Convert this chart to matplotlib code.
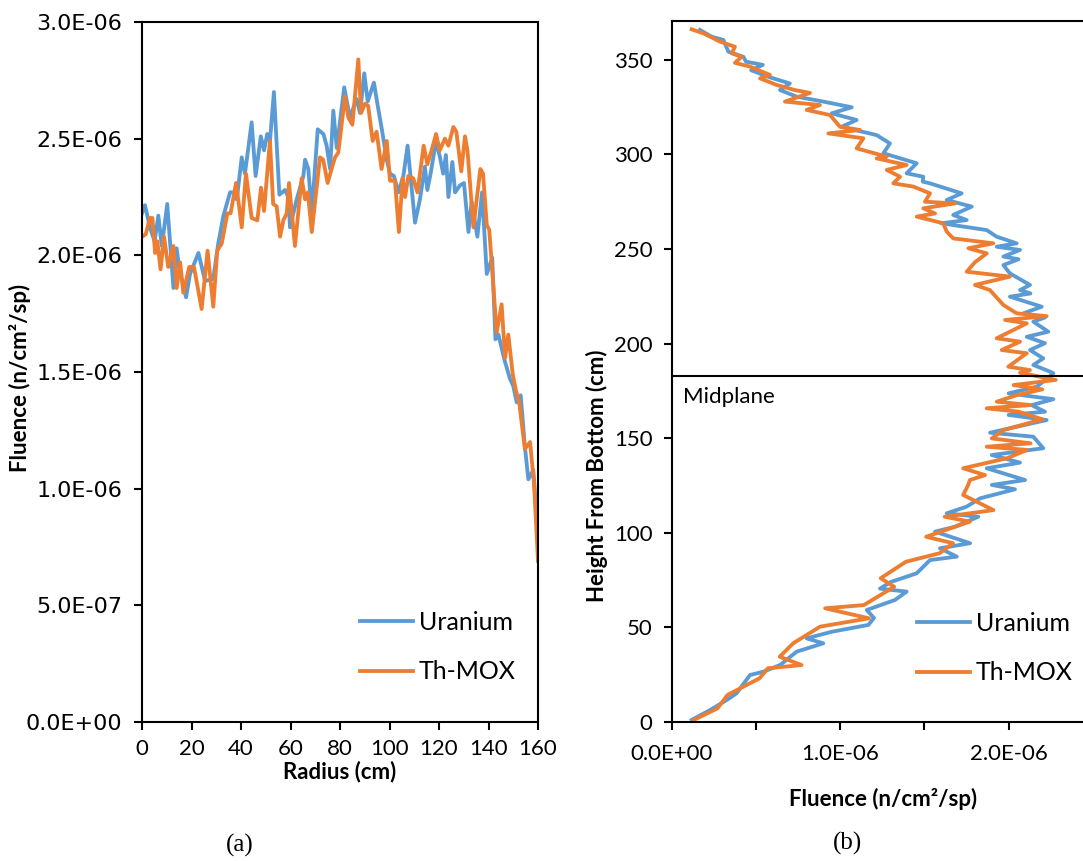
import matplotlib
matplotlib.use('Agg')
import matplotlib.pyplot as plt
import numpy as np
from matplotlib.ticker import FixedLocator, FuncFormatter

# colours (Excel office palette)
c_u = '#5B9BD5'
c_th = '#ED7D31'

# ---- (a) radial profile, fluence in units of 1e-6
radius_u = [0, 1.2, 3.2, 5.1, 6.6, 8.0, 10.2, 12.7, 14.0, 15.1, 17.8, 19.4, 22.8, 25.5, 28.8,
            30.8, 32.9, 35.6, 37.2, 38.3, 40.3, 41.6, 44.3, 45.9, 48.0, 49.3, 50.6, 51.7, 53.3,
            55.5, 57.8, 59.1, 59.8, 62.5, 65.2, 65.9, 67.2, 68.6, 71.0, 73.3, 74.6, 76.0, 77.3,
            78.7, 81.7, 84.0, 86.7, 88.1, 89.8, 91.2, 93.7, 95.1, 96.9, 98.9, 100.2, 101.8,
            103.6, 105.6, 107.3, 110.3, 112.3, 114.3, 115.3, 116.6, 118.8, 120.4, 121.7, 122.8,
            123.8, 125.4, 126.5, 128.5, 130.1, 131.9, 133.2, 135.5, 137.4, 139.3, 141.5, 142.8,
            144.0, 146.5, 148.7, 150.0, 151.4, 153.0, 154.7, 156.1, 158.1, 160.0]
flux_u = [2.18, 2.215, 2.12, 2.06, 2.17, 2.04, 2.22, 1.86, 2.03, 1.94, 1.82, 1.92, 2.01, 1.89, 1.90,
          2.05, 2.17, 2.27, 2.27, 2.24, 2.42, 2.35, 2.57, 2.34, 2.51, 2.45, 2.52, 2.49, 2.70,
          2.26, 2.28, 2.25, 2.12, 2.24, 2.34, 2.41, 2.37, 2.18, 2.54, 2.52, 2.47, 2.37, 2.62,
          2.46, 2.72, 2.59, 2.67, 2.61, 2.78, 2.66, 2.74, 2.65, 2.54, 2.41, 2.35, 2.34,
          2.27, 2.34, 2.47, 2.14, 2.24, 2.38, 2.28, 2.35, 2.49, 2.42, 2.35, 2.43,
          2.25, 2.40, 2.27, 2.30, 2.31, 2.10, 2.23, 2.08, 2.27, 1.92, 1.99, 1.64,
          1.66, 1.55, 1.47, 1.44, 1.37, 1.40, 1.18, 1.04, 1.08, 0.80]

radius_th = [0, 1.5, 3.2, 4.2, 5.3, 6.2, 7.5, 8.9, 10.6, 12.7, 14.0, 15.4, 16.7, 19.1, 21.0, 24.1,
             26.5, 28.8, 30.4, 32.2, 34.5, 35.8, 38.0, 40.3, 42.0, 44.3, 46.6, 48.1, 49.3, 51.7,
             53.0, 54.4, 55.8, 57.1, 58.5, 59.4, 61.8, 64.5, 65.9, 67.0, 68.6, 71.9, 73.2, 75.0,
             76.6, 78.0, 79.3, 82.0, 83.4, 85.0, 87.4, 88.5, 90.1, 91.4, 93.2, 94.8, 96.8, 98.9,
             100.2, 102.2, 103.8, 105.3, 106.3, 107.6, 109.6, 111.3, 113.8, 115.3, 117.0, 118.8,
             120.3, 122.4, 123.8, 125.8, 127.0, 129.0, 130.5, 131.5, 133.9, 136.7, 137.8, 139.3,
             140.3, 143.3, 145.3, 146.7, 148.0, 149.8, 151.1, 152.4, 154.7, 156.8, 158.4, 160.0]
flux_th = [2.08, 2.09, 2.16, 2.16, 2.01, 2.06, 1.94, 2.08, 1.95, 2.04, 1.86, 1.97, 1.84, 1.95, 1.95, 1.77,
           2.02, 1.78, 2.02, 2.05, 2.18, 2.18, 2.31, 2.12, 2.35, 2.16, 2.15, 2.29, 2.19, 2.49,
           2.22, 2.21, 2.08, 2.15, 2.18, 2.31, 2.04, 2.33, 2.24, 2.27, 2.10, 2.42, 2.41, 2.31,
           2.37, 2.42, 2.44, 2.68, 2.59, 2.56, 2.84, 2.61, 2.65, 2.64, 2.49, 2.53, 2.37, 2.49,
           2.32, 2.32, 2.10, 2.33, 2.25, 2.34, 2.33, 2.27, 2.47, 2.39, 2.45, 2.52,
           2.45, 2.50, 2.47, 2.55, 2.53, 2.36, 2.51, 2.45, 2.12, 2.37, 2.35, 2.13,
           2.11, 1.67, 1.79, 1.56, 1.66, 1.49, 1.42, 1.37, 1.17, 1.20, 1.02, 0.69]

# ---- (b) axial profile, fluence in units of 1e-6
height_u = [365.8, 362.2, 360.5, 354.3, 351.6, 349.0, 347.3, 344.5, 341.0, 337.5, 334.0, 330.5,
            327.9, 324.9, 321.7, 318.2, 314.6, 310.2, 305.8, 300.6, 295.3, 290.0, 288.2, 285.6,
            284.7, 279.4, 275.9, 272.4, 268.0, 265.3, 263.6, 260.0, 256.5, 253.0, 251.2, 249.5, 246.0, 244.6,
            241.5, 237.1, 231.0, 228.3, 226.5, 224.8, 219.5, 216.0, 213.8, 211.6, 206.3, 203.6,
            200.2, 196.6, 192.2, 188.7, 185.2, 184.3, 177.2, 173.7, 170.6, 167.5, 164.0, 162.3,
            159.6, 152.9, 150.8, 144.7, 141.1, 137.1, 134.1, 127.9, 125.3, 123.0, 118.2, 113.8,
            110.3, 108.5, 103.2, 100.6, 94.5, 91.8, 87.4, 85.6, 78.6, 74.0, 70.5, 68.9, 64.5,
            59.2, 55.0, 51.3, 47.7, 44.2, 41.6, 37.2, 30.1, 26.6, 24.8, 15.2, 11.6, 6.3, 1.1]
axial_u = [0.166, 0.236, 0.305, 0.335, 0.424, 0.44, 0.54, 0.47, 0.572, 0.70, 0.642, 0.741,
           0.90, 1.068, 0.949, 1.097, 1.008, 1.216, 1.295, 1.256, 1.454, 1.394, 1.493, 1.49,
           1.533, 1.721, 1.632, 1.781, 1.671, 1.751, 1.60, 1.87, 1.929, 2.048, 1.929, 2.068, 1.969, 2.059,
           1.969, 2.008, 2.127, 2.068, 2.13, 2.008, 2.197, 2.088, 2.216, 2.147, 2.236, 2.108,
           2.216, 2.127, 2.206, 2.147, 2.246, 2.266, 2.167, 2.0, 2.266, 2.137, 2.216, 2.0,
           2.226, 1.89, 2.147, 2.206, 1.90, 2.068, 1.87, 2.098, 1.90, 2.038, 1.83, 1.75,
           1.632, 1.82, 1.681, 1.563, 1.771, 1.592, 1.692, 1.533, 1.454, 1.30, 1.236, 1.394, 1.325,
           1.157, 1.20, 1.167, 0.949, 0.80, 0.899, 0.741, 0.642, 0.543, 0.463, 0.384, 0.325, 0.226, 0.117]

height_th = [366.1, 364.0, 361.4, 359.6, 356.9, 353.4, 351.6, 348.4, 346.4, 342.0, 340.2, 336.7,
             334.0, 332.5, 327.9, 326.1, 323.5, 320.8, 314.6, 312.9, 311.1, 308.5, 303.2, 298.8,
             297.9, 294.4, 291.8, 288.2, 284.7, 283.0, 279.4, 275.0, 274.1, 271.5, 268.8, 267.1,
             263.6, 259.2, 255.6, 253.0, 250.4, 247.7, 243.0, 238.0, 235.4, 231.0, 228.3, 220.4,
             216.0, 214.5, 212.5, 210.7, 202.8, 201.0, 196.6, 194.9, 187.8, 186.0, 184.6, 180.8,
             178.1, 175.8, 172.8, 169.3, 167.5, 165.8, 164.0, 160.0, 154.3, 149.9, 147.3, 145.5,
             143.8, 139.4, 134.1, 130.5, 127.9, 125.3, 120.0, 112.0, 108.5, 105.9, 97.9, 94.5,
             89.2, 84.7, 76.0, 71.5, 61.8, 60.1, 54.8, 50.4, 41.6, 34.5, 30.1, 28.4, 23.1, 14.3,
             7.2, 1.1]
axial_th = [0.117, 0.186, 0.245, 0.285, 0.374, 0.355, 0.414, 0.374, 0.463, 0.582, 0.523, 0.622,
            0.73, 0.82, 0.671, 0.879, 0.80, 0.939, 0.998, 1.117, 0.929, 1.137, 1.097, 1.276,
            1.216, 1.394, 1.276, 1.355, 1.315, 1.434, 1.533, 1.503, 1.681, 1.493, 1.563, 1.454,
            1.612, 1.632, 1.671, 1.909, 1.761, 1.87, 1.80, 1.751, 2.008, 1.80, 1.889, 1.969,
            2.048, 2.226, 1.979, 2.108, 1.929, 2.068, 1.959, 2.108, 1.998, 2.127, 2.068, 2.28,
            2.03, 2.20, 2.05, 1.93, 2.13, 1.87, 2.06, 2.20, 1.97, 1.90, 2.13, 1.87,
            2.11, 1.99, 1.73, 1.86, 1.77, 1.76, 1.73, 1.91, 1.62, 1.77, 1.51, 1.67,
            1.59, 1.39, 1.24, 1.32, 1.14, 0.91, 1.17, 0.88, 0.72, 0.64, 0.77, 0.57, 0.52, 0.33,
            0.27, 0.13]

midplane = 183
series = ['Uranium', 'Th-MOX']

W, H = 1083, 861
fig = plt.figure(figsize=(W / 100, H / 100), dpi=100)

def sci(v, pos):
    return '%.1E' % v

lw = 2.75
tick_font = 'Lato'

# ---------------- panel (a)
ax1 = fig.add_axes([142 / W, (H - 722) / H, (538 - 142) / W, (722 - 22) / H])
ax1.plot(radius_u, np.array(flux_u) * 1e-6, color=c_u, lw=lw, label=series[0])
ax1.plot(radius_th, np.array(flux_th) * 1e-6, color=c_th, lw=lw, label=series[1])
ax1.set_xlim(0, 160)
ax1.set_ylim(0, 3e-6)
ax1.set_xticks(np.arange(0, 161, 20))
ax1.set_yticks(np.arange(0, 3.01e-6, 0.5e-6))
ax1.yaxis.set_major_formatter(FuncFormatter(sci))
for lab in ax1.get_yticklabels():
    lab.set_family('DejaVu Sans')
    lab.set_fontsize(16)
for lab in ax1.get_xticklabels():
    lab.set_family(tick_font)
    lab.set_fontsize(16)
ax1.set_xlabel('Radius (cm)', fontfamily='Lato', fontweight='bold', fontsize=16, va='center')
ax1.xaxis.set_label_coords(0.5, (722 - 772) / 700)
ax1.set_ylabel('Fluence (n/cm²/sp)', fontfamily='Lato', fontweight='bold', fontsize=16, va='center')
ax1.yaxis.set_label_coords((20 - 142) / 396, (722 - 378) / 700)
leg1 = ax1.legend(loc='upper left', bbox_to_anchor=((360 - 142) / 396, (722 - 611) / 700),
                  frameon=False, prop={'family': 'Lato', 'size': 18}, handlelength=2.1,
                  handletextpad=0.25, labelspacing=1.05, borderpad=0, borderaxespad=0)

# ---------------- panel (b)
ax2 = fig.add_axes([672 / W, (H - 722) / H, (W - 672) / W, (722 - 21) / H])
ax2.plot(np.array(axial_u) * 1e-6, height_u, color=c_u, lw=lw, label=series[0])
ax2.plot(np.array(axial_th) * 1e-6, height_th, color=c_th, lw=lw, label=series[1])
ax2.axhline(midplane, color='black', lw=1.5)
ax2.text(0.065e-6, 172, 'Midplane', fontfamily='Lato', fontsize=16, ha='left', va='center')
ax2.set_xlim(0, (W - 672) / 168.3 * 1e-6)
ax2.set_ylim(0, (722 - 21) / 1.892)
ax2.xaxis.set_major_locator(FixedLocator([0, 1e-6, 2e-6]))
ax2.xaxis.set_minor_locator(FixedLocator([0.5e-6, 1.5e-6]))
ax2.xaxis.set_major_formatter(FuncFormatter(sci))
ax2.set_yticks(np.arange(0, 351, 50))
for lab in ax2.get_xticklabels() + ax2.get_yticklabels():
    lab.set_family(tick_font)
    lab.set_fontsize(16)
ax2.spines['right'].set_visible(False)
ax2.set_xlabel('Fluence (n/cm²/sp)', fontfamily='Lato', fontweight='bold', fontsize=16, va='center')
ax2.xaxis.set_label_coords((883 - 672) / 411, (722 - 799) / 701)
ax2.set_ylabel('Height From Bottom (cm)', fontfamily='Lato', fontweight='bold', fontsize=16, va='center')
ax2.yaxis.set_label_coords((597 - 672) / 411, (722 - 476) / 701)
leg2 = ax2.legend(loc='upper left', bbox_to_anchor=((917 - 672) / 411, (722 - 612) / 701),
                  frameon=False, prop={'family': 'Lato', 'size': 18}, handlelength=2.1,
                  handletextpad=0.25, labelspacing=1.05, borderpad=0, borderaxespad=0)

for ax in (ax1, ax2):
    for s in ax.spines.values():
        s.set_linewidth(1.5)
        s.set_color('black')
    ax.tick_params(which='both', direction='out', length=6, width=1.5, color='black')
    ax.tick_params(axis='y', pad=8)
    ax.tick_params(axis='x', pad=6)

ax2.tick_params(axis='x', pad=10)

fig.text(240 / W, 1 - 845 / H, '(a)', fontfamily='Liberation Serif', fontsize=18, ha='center', va='center')
fig.text(848 / W, 1 - 843 / H, '(b)', fontfamily='Liberation Serif', fontsize=18, ha='center', va='center')

fig.savefig('out.png', dpi=100)
